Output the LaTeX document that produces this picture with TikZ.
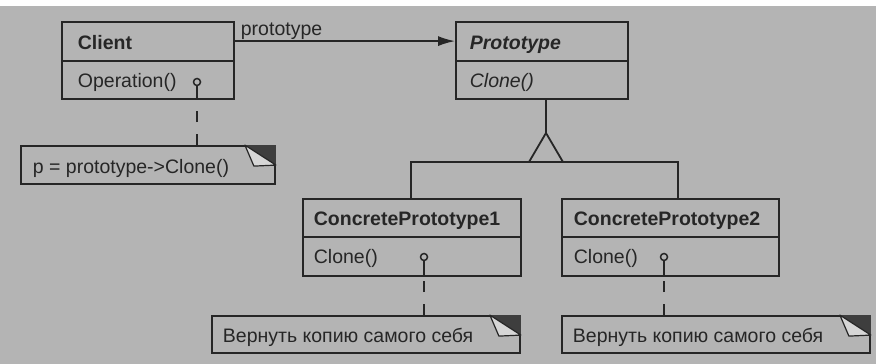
\documentclass[tikz,border=0pt]{standalone}
\usepackage{fontspec}
\setmainfont{Liberation Sans}
\usetikzlibrary{arrows.meta,calc}
\definecolor{bg}{RGB}{180,180,180}
\definecolor{ink}{RGB}{38,38,38}
\definecolor{foldc}{RGB}{62,62,62}
\definecolor{flapc}{RGB}{214,214,214}
\begin{document}
\begin{tikzpicture}[x=1pt,y=-1pt,line width=1.8pt,
  classbox/.style={draw=ink,line width=1.8pt,rectangle,inner sep=0pt,minimum height=77pt},
  notebox/.style={draw=ink,line width=1.8pt,rectangle,inner sep=0pt,minimum height=37pt},
  lbl/.style={anchor=base west,inner sep=0pt,text=ink,font=\fontsize{19.5}{22}\selectfont},
  lblb/.style={lbl,font=\fontsize{19.5}{22}\selectfont\bfseries},
  lblbi/.style={lbl,font=\fontsize{19.5}{22}\selectfont\bfseries\itshape},
  lbli/.style={lbl,font=\fontsize{19.5}{22}\selectfont\itshape},
  dotc/.style={circle,draw=ink,line width=1.5pt,inner sep=0pt,minimum size=7pt,fill=bg},
  wire/.style={draw=ink,line width=1.8pt},
  notewire/.style={draw=ink,line width=1.8pt,dash pattern=on 11pt off 12pt},
  foldfill/.style={fill=foldc},
  flapfill/.style={fill=flapc,draw=ink,line width=1.2pt,line join=round}]
\useasboundingbox (0,0) rectangle (876,364);
\fill[white] (0,0) rectangle (876,364);
\fill[bg] (0,6) rectangle (876,364);

% classes
\node[classbox,minimum width=172pt] (client) at (148,60.5) {};
\draw[wire] (client.west |- 0,61) -- (client.east |- 0,61);
\node[lblb] (clientname) at (77,49) {Client};
\node[lbl] (clientop) at (77,87) {Operation()};

\node[classbox,minimum width=172pt] (proto) at (542,60.5) {};
\draw[wire] (proto.west |- 0,61) -- (proto.east |- 0,61);
\node[lblbi] (protoname) at (469,49) {Prototype};
\node[lbli] (protoop) at (469,87) {Clone()};

\node[classbox,minimum width=218pt] (cp1) at (412,237.5) {};
\draw[wire] (cp1.west |- 0,237) -- (cp1.east |- 0,237);
\node[lblb] (cp1name) at (313,225) {ConcretePrototype1};
\node[lbl] (cp1op) at (313,263) {Clone()};

\node[classbox,minimum width=217pt] (cp2) at (670.5,237.5) {};
\draw[wire] (cp2.west |- 0,237) -- (cp2.east |- 0,237);
\node[lblb] (cp2name) at (573,225) {ConcretePrototype2};
\node[lbl] (cp2op) at (573,263) {Clone()};

% association
\draw[wire,-{Latex[length=17pt,width=10pt]}] ($(client.north east)+(0,20)$) -- ($(proto.north west)+(0,20)$);
\node[lbl] (assoc) at (240,35) {prototype};

% inheritance
\coordinate (apex) at (546,133);
\coordinate (j1) at (411,162);
\coordinate (j2) at (678,162);
\draw[wire] (proto.south -| apex) -- (apex);
\draw[wire,line join=miter] (apex) -- (529,162) -- (563,162) -- cycle;
\draw[wire] (cp1.north -| j1) -- (j1) -- (j2) -- (cp2.north -| j2);

% notes
\node[notebox,minimum width=254pt,minimum height=38pt] (note0) at (148,165) {};
\node[lbl] (note0t) at (32,173) {p = prototype->Clone()};
\node[notebox,minimum width=308pt] (note1) at (366,334.5) {};
\node[lbl] (note1t) at (222,342) {Вернуть копию самого себя};
\node[notebox,minimum width=308pt] (note2) at (716,334.5) {};
\node[lbl] (note2t) at (572,342) {Вернуть копию самого себя};

\foreach \n in {note0,note1,note2}{
  \fill[foldfill] ($(\n.north east)+(-31,0)$) -- (\n.north east) -- ($(\n.north east)+(0,20)$) -- cycle;
  \filldraw[flapfill] ($(\n.north east)+(-31,0)$) -- ($(\n.north east)+(-22,21)$) -- ($(\n.north east)+(0,20)$) -- cycle;
}

% note attachments
\node[dotc] (c0) at (197,82) {};
\coordinate (b0) at (c0 |- client.south);
\draw[wire] (c0) -- (b0);
\draw[notewire] (c0 |- note0.north) -- (b0);

\node[dotc] (c1) at (424,257) {};
\coordinate (b1) at (c1 |- cp1.south);
\draw[wire] (c1) -- (b1);
\draw[notewire] (c1 |- note1.north) -- (b1);

\node[dotc] (c2) at (664,257) {};
\coordinate (b2) at (c2 |- cp2.south);
\draw[wire] (c2) -- (b2);
\draw[notewire] (c2 |- note2.north) -- (b2);
\end{tikzpicture}
\end{document}
